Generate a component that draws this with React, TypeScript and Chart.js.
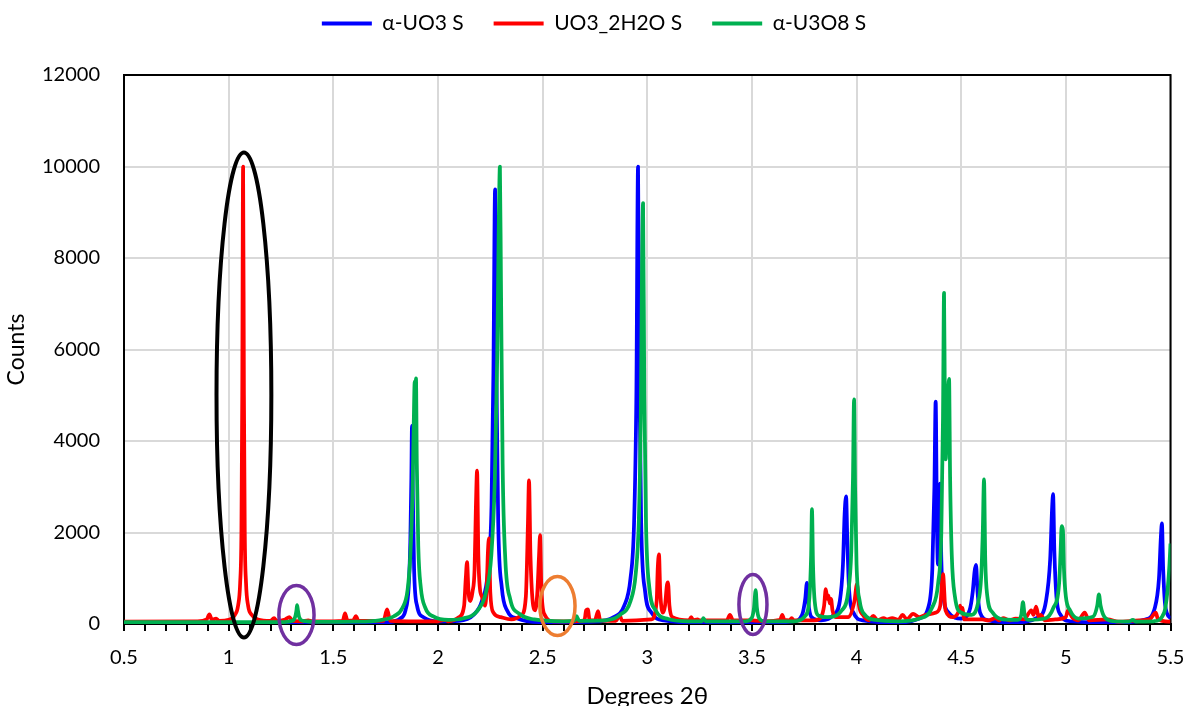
import React, { useEffect, useRef } from "react";
import { Chart, registerables } from "chart.js";

Chart.register(...registerables);

type Pt = [number, number];

// ---------- data ----------
const seriesNames = ["α-UO3 S", "UO3_2H2O S", "α-U3O8 S"];
const seriesColors = ["#0000FF", "#FF0000", "#00B050"];
const seriesOrder = [3, 2, 1]; // green drawn on top, then red, then blue

const xTitle = "Degrees 2θ";
const yTitle = "Counts";
const xMin = 0.5;
const xMax = 5.5;
const xMinorStep = 0.1;
const xMajorStep = 0.5;
const yMin = 0;
const yMax = 12000;
const yStep = 2000;

const alphaUO3: Pt[] = [
  [0.5, 15], [1.6, 15], [1.76, 40], [1.82, 120], [1.845, 300], [1.86, 800], [1.868, 1800],
  [1.873, 3200], [1.876, 4330], [1.88, 2800], [1.886, 1200], [1.9, 400], [1.93, 150], [2.0, 60],
  [2.1, 70], [2.17, 200], [2.21, 500], [2.24, 1200], [2.256, 2600], [2.265, 5500], [2.273, 9500],
  [2.279, 5500], [2.288, 2200], [2.305, 800], [2.33, 300], [2.38, 120], [2.5, 40], [2.75, 50],
  [2.84, 150], [2.89, 400], [2.92, 1000], [2.937, 2200], [2.948, 5000], [2.956, 10000], [2.962, 5500],
  [2.971, 2200], [2.99, 700], [3.02, 250], [3.08, 80], [3.3, 20], [3.6, 30], [3.7, 60], [3.74, 200],
  [3.755, 550], [3.763, 900], [3.77, 450], [3.785, 150], [3.83, 80], [3.89, 200], [3.92, 500],
  [3.935, 1300], [3.943, 2400], [3.95, 2790], [3.956, 1800], [3.965, 700], [3.985, 250], [4.03, 80],
  [4.2, 30], [4.3, 120], [4.345, 400], [4.362, 1200], [4.372, 3000], [4.378, 4860], [4.384, 2200],
  [4.389, 1300], [4.394, 2400], [4.399, 3070], [4.405, 1400], [4.415, 600], [4.44, 250], [4.5, 120],
  [4.54, 300], [4.555, 700], [4.564, 1150], [4.571, 1290], [4.578, 700], [4.59, 250], [4.63, 80],
  [4.75, 40], [4.87, 150], [4.905, 500], [4.925, 1400], [4.934, 2500], [4.939, 2840], [4.945, 1600],
  [4.955, 600], [4.975, 200], [5.02, 60], [5.25, 30], [5.38, 100], [5.425, 350], [5.445, 1000],
  [5.454, 1900], [5.459, 2200], [5.465, 1200], [5.475, 400], [5.5, 120],
];

const uo3Dihydrate: Pt[] = [
  [0.5, 50], [0.85, 60], [0.895, 100], [0.908, 210], [0.92, 90], [0.94, 120], [0.955, 70],
  [1.0, 90], [1.03, 200], [1.045, 400], [1.055, 900], [1.061, 2000], [1.065, 5000], [1.069, 10000],
  [1.073, 5000], [1.077, 2000], [1.083, 900], [1.093, 400], [1.11, 200], [1.14, 100], [1.2, 70],
  [1.217, 130], [1.23, 70], [1.27, 100], [1.29, 150], [1.305, 70], [1.35, 60], [1.38, 80], [1.4, 60],
  [1.5, 60], [1.545, 70], [1.556, 230], [1.568, 70], [1.595, 80], [1.608, 170], [1.62, 70],
  [1.74, 70], [1.757, 320], [1.772, 70], [1.9, 60], [2.0, 60], [2.035, 90], [2.05, 60], [2.1, 150],
  [2.125, 400], [2.133, 1000], [2.139, 1350], [2.146, 700], [2.155, 500], [2.165, 700], [2.175, 1200],
  [2.181, 2500], [2.187, 3350], [2.193, 1500], [2.2, 800], [2.21, 600], [2.225, 400], [2.233, 800],
  [2.239, 1600], [2.244, 1870], [2.25, 700], [2.265, 250], [2.3, 150], [2.35, 100], [2.4, 200],
  [2.42, 600], [2.43, 2200], [2.435, 3140], [2.442, 1500], [2.455, 400], [2.465, 300], [2.475, 700],
  [2.483, 1500], [2.488, 1940], [2.494, 800], [2.51, 200], [2.55, 60], [2.62, 60], [2.7, 80],
  [2.708, 300], [2.716, 320], [2.725, 80], [2.75, 80], [2.765, 280], [2.775, 80], [2.85, 70],
  [2.868, 190], [2.88, 70], [3.02, 100], [3.045, 500], [3.05, 1200], [3.056, 1520], [3.062, 700],
  [3.075, 250], [3.085, 400], [3.094, 850], [3.099, 910], [3.106, 400], [3.12, 150], [3.2, 80],
  [3.21, 150], [3.22, 80], [3.24, 100], [3.25, 80], [3.38, 80], [3.395, 200], [3.41, 80], [3.5, 80],
  [3.56, 60], [3.635, 90], [3.645, 200], [3.655, 90], [3.68, 80], [3.69, 130], [3.7, 80], [3.8, 80],
  [3.83, 150], [3.845, 400], [3.853, 760], [3.86, 550], [3.866, 620], [3.872, 450], [3.878, 550],
  [3.885, 300], [3.9, 150], [3.96, 150], [3.99, 500], [4.002, 870], [4.012, 400], [4.03, 200],
  [4.06, 80], [4.08, 180], [4.1, 80], [4.13, 130], [4.145, 100], [4.17, 130], [4.2, 90], [4.22, 200],
  [4.24, 100], [4.27, 220], [4.3, 150], [4.33, 200], [4.38, 250], [4.4, 400], [4.413, 1090],
  [4.425, 300], [4.46, 150], [4.49, 300], [4.495, 400], [4.5, 250], [4.505, 350], [4.515, 100],
  [4.6, 100], [4.63, 80], [4.665, 130], [4.68, 80], [4.7, 130], [4.73, 80], [4.76, 120], [4.8, 100],
  [4.835, 300], [4.845, 200], [4.858, 380], [4.87, 150], [4.88, 200], [4.9, 80], [4.95, 100],
  [5.0, 150], [5.01, 300], [5.03, 150], [5.06, 80], [5.09, 250], [5.11, 80], [5.2, 100], [5.25, 50],
  [5.35, 80], [5.4, 100], [5.43, 250], [5.44, 100], [5.5, 50],
];

const alphaU3O8: Pt[] = [
  [0.5, 40], [1.25, 40], [1.305, 70], [1.318, 160], [1.324, 300], [1.327, 410], [1.331, 300],
  [1.337, 150], [1.355, 70], [1.45, 45], [1.6, 50], [1.72, 80], [1.79, 170], [1.83, 350],
  [1.855, 750], [1.868, 1500], [1.878, 2800], [1.884, 4300], [1.889, 5300], [1.892, 5000],
  [1.895, 5370], [1.899, 3500], [1.906, 1700], [1.918, 800], [1.94, 350], [1.98, 160], [2.05, 90],
  [2.12, 120], [2.19, 300], [2.23, 700], [2.255, 1500], [2.272, 3200], [2.283, 5800], [2.29, 8500],
  [2.296, 10000], [2.301, 7500], [2.309, 3500], [2.322, 1400], [2.345, 550], [2.39, 220], [2.46, 100],
  [2.6, 60], [2.65, 70], [2.658, 120], [2.663, 170], [2.668, 120], [2.676, 70], [2.8, 80],
  [2.87, 200], [2.92, 500], [2.945, 1100], [2.96, 2300], [2.969, 4500], [2.975, 7800], [2.98, 9200],
  [2.986, 5000], [2.994, 2200], [3.01, 800], [3.04, 300], [3.1, 110], [3.2, 60], [3.26, 60],
  [3.265, 100], [3.268, 130], [3.272, 100], [3.28, 60], [3.47, 60], [3.5, 140], [3.51, 350],
  [3.518, 740], [3.524, 350], [3.534, 130], [3.56, 60], [3.7, 60], [3.755, 180], [3.775, 600],
  [3.783, 1500], [3.787, 2510], [3.792, 1300], [3.8, 500], [3.82, 180], [3.86, 150], [3.93, 300],
  [3.96, 700], [3.975, 1600], [3.983, 3200], [3.988, 4910], [3.993, 3000], [4.0, 1300], [4.015, 500],
  [4.04, 200], [4.09, 90], [4.2, 60], [4.3, 120], [4.36, 350], [4.39, 900], [4.405, 2000],
  [4.413, 4500], [4.418, 7240], [4.422, 4800], [4.426, 3600], [4.432, 4300], [4.437, 5000],
  [4.442, 5360], [4.447, 3200], [4.455, 1500], [4.47, 600], [4.5, 250], [4.55, 200], [4.58, 450],
  [4.595, 1000], [4.603, 2000], [4.609, 3160], [4.615, 1400], [4.625, 600], [4.65, 250], [4.7, 100],
  [4.77, 90], [4.787, 200], [4.795, 480], [4.803, 200], [4.82, 90], [4.9, 120], [4.94, 350],
  [4.968, 900], [4.975, 1600], [4.98, 2140], [4.986, 2050], [4.991, 1200], [5.0, 600], [5.02, 300],
  [5.06, 120], [5.13, 160], [5.15, 400], [5.158, 650], [5.166, 400], [5.185, 150], [5.23, 60],
  [5.3, 50], [5.32, 90], [5.335, 50], [5.42, 60], [5.47, 250], [5.485, 700], [5.495, 1300],
  [5.5, 1760],
];

const seriesData = [alphaUO3, uo3Dihydrate, alphaU3O8];

// annotation ellipses, in data units: centre x, centre y, radius x, radius y
const ellipseCx = [1.073, 1.324, 2.571, 3.505];
const ellipseCy = [5004, 196, 393, 426];
const ellipseRx = [0.131, 0.084, 0.084, 0.067];
const ellipseRy = [5300, 644, 644, 655];
const ellipseColors = ["#000000", "#7030A0", "#ED7D31", "#7030A0"];

// ---------- helpers ----------
const isMajor = (v: number) => Math.abs(v / xMajorStep - Math.round(v / xMajorStep)) < 1e-6;
const fmtX = (v: number) => String(Number(v.toFixed(1)));

const ellipsePlugin = {
  id: "ellipses",
  afterDatasetsDraw(chart: any) {
    const { ctx, scales } = chart;
    const xs = scales.x;
    const ys = scales.y;
    ctx.save();
    for (let i = 0; i < ellipseCx.length; i++) {
      const px = xs.getPixelForValue(ellipseCx[i]);
      const py = ys.getPixelForValue(ellipseCy[i]);
      const rx = Math.abs(xs.getPixelForValue(ellipseCx[i] + ellipseRx[i]) - px);
      const ry = Math.abs(ys.getPixelForValue(ellipseCy[i] + ellipseRy[i]) - py);
      ctx.beginPath();
      ctx.ellipse(px, py, rx, ry, 0, 0, Math.PI * 2);
      ctx.lineWidth = i === 0 ? 4 : 3.5;
      ctx.strokeStyle = ellipseColors[i];
      ctx.stroke();
    }
    ctx.restore();
  },
};

const framePlugin = {
  id: "frame",
  beforeDatasetsDraw(chart: any) {
    const { ctx, chartArea } = chart;
    ctx.save();
    ctx.strokeStyle = "#000";
    ctx.lineWidth = 2;
    ctx.strokeRect(chartArea.left, chartArea.top, chartArea.right - chartArea.left, chartArea.bottom - chartArea.top);
    ctx.restore();
  },
};

const LEGEND_TOP = -17;
const PLOT_TOP = 75;

const legendHeightPlugin = {
  id: "legendHeight",
  beforeLayout(chart: any) {
    const lg = chart.legend;
    if (lg && !lg.__patched) {
      const orig = lg.fit.bind(lg);
      lg.fit = () => {
        orig();
        lg.height = PLOT_TOP - LEGEND_TOP;
      };
      lg.__patched = true;
    }
  },
};

export default function App() {
  const canvasRef = useRef<HTMLCanvasElement | null>(null);

  useEffect(() => {
    if (!canvasRef.current) return;
    Chart.defaults.font.family = "Lato";
    Chart.defaults.color = "#000";

    const chart = new Chart(canvasRef.current, {
      type: "line",
      data: {
        datasets: seriesNames.map((name, i) => ({
          label: name,
          data: seriesData[i].map(([x, y]) => ({ x, y })),
          borderColor: seriesColors[i],
          backgroundColor: seriesColors[i],
          borderWidth: 3.75,
          pointRadius: 0,
          pointHoverRadius: 0,
          fill: false,
          cubicInterpolationMode: "monotone" as const,
          borderJoinStyle: "round" as const,
          order: seriesOrder[i],
        })),
      },
      options: {
        animation: false,
        responsive: false,
        devicePixelRatio: 1,
        layout: { padding: { top: LEGEND_TOP, left: 0, right: 0, bottom: 0 } },
        plugins: {
          tooltip: { enabled: false },
          legend: {
            display: true,
            position: "top",
            align: "center",
            labels: {
              boxWidth: 50,
              boxHeight: 4,
              padding: 30,
              color: "#000",
              font: { size: 21 },
              sort: (a: any, b: any) => a.datasetIndex - b.datasetIndex,
              generateLabels: (c: any) =>
                (Chart.defaults.plugins.legend.labels as any).generateLabels(c).map((it: any) => ({
                  ...it,
                  fillStyle: it.strokeStyle,
                  lineWidth: 0,
                })),
            },
          },
        },
        scales: {
          x: {
            type: "linear",
            min: xMin,
            max: xMax,
            ticks: {
              stepSize: xMinorStep,
              autoSkip: false,
              maxRotation: 0,
              padding: 15,
              color: "#000",
              font: { size: 20 },
              callback: (v: any) => (isMajor(Number(v)) ? fmtX(Number(v)) : ""),
            },
            grid: {
              color: (ctx: any) => (ctx.tick && isMajor(ctx.tick.value) ? "#d9d9d9" : "rgba(0,0,0,0)"),
              lineWidth: 2,
              tickColor: "#000",
              tickLength: 7,
              tickWidth: 2,
            },
            border: { color: "#000", width: 2 },
            title: {
              display: true,
              text: xTitle,
              color: "#000",
              font: { size: 24 },
              padding: { top: 0, bottom: -5 },
            },
            afterFit: (s: any) => {
              s.height = 82;
              s.paddingLeft = 0;
              s.paddingRight = 17.5;
            },
          },
          y: {
            type: "linear",
            min: yMin,
            max: yMax,
            ticks: {
              stepSize: yStep,
              padding: 24,
              color: "#000",
              font: { size: 20 },
              callback: (v: any) => String(v),
            },
            grid: { color: "#d9d9d9", lineWidth: 2, drawTicks: false },
            border: { color: "#000", width: 2 },
            title: {
              display: true,
              text: yTitle,
              color: "#000",
              font: { size: 23 },
              padding: { top: 3, bottom: 0 },
            },
            afterFit: (s: any) => {
              s.width = 124;
            },
          },
        },
      },
      plugins: [legendHeightPlugin, framePlugin, ellipsePlugin],
    } as any);

    return () => chart.destroy();
  }, []);

  return (
    <div style={{ position: "absolute", left: 0, top: 0, width: 1188, height: 706, background: "#fff" }}>
      <canvas ref={canvasRef} width={1188} height={706} style={{ display: "block" }} />
    </div>
  );
}
